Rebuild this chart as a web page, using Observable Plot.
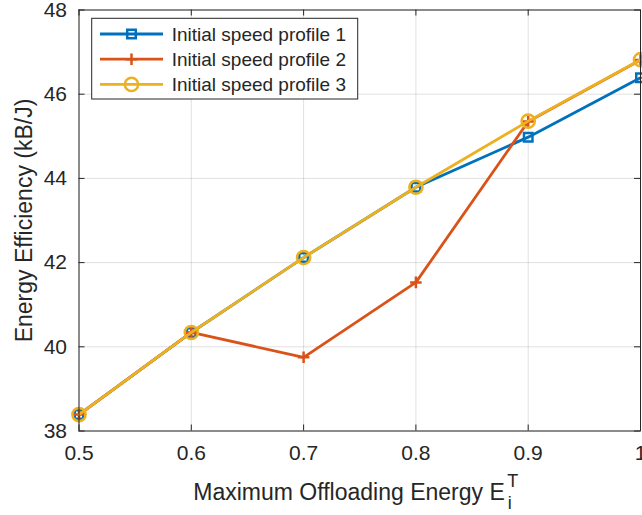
<!DOCTYPE html>
<html><head><meta charset="utf-8">
<script src="https://cdn.jsdelivr.net/npm/d3@7"></script>
<script src="https://cdn.jsdelivr.net/npm/@observablehq/plot@0.6"></script>
<style>
body{margin:0;background:#fff;}
#chart svg{display:block;}
</style>
</head><body><div id="chart"></div>
<script>
// ---- data ----
const xValues = [0.5, 0.6, 0.7, 0.8, 0.9, 1.0];
const profile1 = [38.39, 40.34, 42.12, 43.79, 44.98, 46.39];
const profile2 = [38.39, 40.34, 39.75, 41.53, 45.35, 46.81];
const profile3 = [38.39, 40.34, 42.12, 43.79, 45.36, 46.82];
const seriesNames = ["Initial speed profile 1", "Initial speed profile 2", "Initial speed profile 3"];
const seriesColors = ["#0072BD", "#D95319", "#EDB120"];
const seriesSymbols = ["square", "plus", "circle"];
const xTicks = [0.5, 0.6, 0.7, 0.8, 0.9, 1.0];
const yTicks = [38, 40, 42, 44, 46, 48];
const xLabelMain = "Maximum Offloading Energy E";
const xLabelSub = "i";
const xLabelSup = "T";
const yLabel = "Energy Efficiency (kB/J)";

// ---- layout ----
const W = 642, H = 515;
const mL = 78.5, mR = 2, mT = 9.5, mB = 84.5;
const innerW = W - mL - mR, innerH = H - mT - mB;
const xDomain = [0.5, 1.0], yDomain = [38, 48];
const tickPx = 6;
const tdx = tickPx * (xDomain[1] - xDomain[0]) / innerW;
const tdy = tickPx * (yDomain[1] - yDomain[0]) / innerH;
const ink = "#262626";
const font = "'Liberation Sans', Arial, Helvetica, sans-serif";

const allSeries = [profile1, profile2, profile3];
const symbolR = [4.8, 3.8, 6.6];

const seriesMarks = [];
allSeries.forEach((vals, i) => {
  const rows = xValues.map((x, j) => ({x, y: vals[j], s: seriesNames[i]}));
  seriesMarks.push(Plot.line(rows, {x: "x", y: "y", stroke: seriesColors[i], strokeWidth: 2.8}));
  seriesMarks.push(Plot.dot(rows, {x: "x", y: "y", stroke: seriesColors[i], fill: "none",
    symbol: seriesSymbols[i], r: symbolR[i], strokeWidth: 2.5}));
});

const chart = Plot.plot({
  width: W, height: H,
  marginLeft: mL, marginRight: mR, marginTop: mT, marginBottom: mB,
  style: {fontFamily: font, color: ink, background: "#fff"},
  x: {domain: xDomain},
  y: {domain: yDomain},
  marks: [
    Plot.gridX(xTicks, {stroke: "#000", strokeOpacity: 0.12, strokeWidth: 1}),
    Plot.gridY(yTicks, {stroke: "#000", strokeOpacity: 0.12, strokeWidth: 1}),
    // inward ticks on all four sides
    Plot.ruleX(xTicks, {x: d => d, y1: yDomain[0], y2: yDomain[0] + tdy, stroke: ink}),
    Plot.ruleX(xTicks, {x: d => d, y1: yDomain[1] - tdy, y2: yDomain[1], stroke: ink}),
    Plot.ruleY(yTicks, {y: d => d, x1: xDomain[0], x2: xDomain[0] + tdx, stroke: ink}),
    Plot.ruleY(yTicks, {y: d => d, x1: xDomain[1] - tdx, x2: xDomain[1], stroke: ink}),
    Plot.axisX(xTicks, {tickSize: 0, tickPadding: 14.5, fontSize: 21, fill: ink,
      tickFormat: d => String(+d.toFixed(1)), label: null}),
    Plot.axisY(yTicks, {tickSize: 0, tickPadding: 12, fontSize: 21, fill: ink,
      tickFormat: d => String(d), label: null}),
    ...seriesMarks,
    Plot.frame({stroke: ink, strokeWidth: 1}),
    Plot.text([yLabel], {frameAnchor: "left", rotate: -90, dx: 31.7 - mL, lineAnchor: "bottom",
      textAnchor: "middle", fontSize: 23, fill: ink})
  ]
});

document.getElementById("chart").appendChild(chart);

// ---- x label with subscript / superscript ----
const svg = d3.select(chart);
const xl = svg.append("text")
  .attr("x", 193.3).attr("y", 499.7).attr("text-anchor", "start")
  .attr("font-family", font).attr("font-size", 23).attr("fill", ink);
xl.append("tspan").text(xLabelMain);
xl.append("tspan").attr("dx", 3).attr("dy", 9).attr("font-size", 18).text(xLabelSub);
xl.append("tspan").attr("dx", -4.5).attr("dy", -21.7).attr("font-size", 18).text(xLabelSup);

// ---- legend ----
const lg = svg.append("g").attr("font-family", font).attr("text-anchor", "start");
lg.append("rect").attr("x", 91.7).attr("y", 18.3).attr("width", 266).attr("height", 80.7)
  .attr("fill", "#fff").attr("stroke", ink).attr("stroke-width", 1);
const symMap = {square: d3.symbolSquare, plus: d3.symbolPlus, circle: d3.symbolCircle};
seriesNames.forEach((name, i) => {
  const cy = 34 + i * 25.2;
  lg.append("line").attr("x1", 100).attr("x2", 163).attr("y1", cy).attr("y2", cy)
    .attr("stroke", seriesColors[i]).attr("stroke-width", 2.8);
  lg.append("path").attr("transform", `translate(131.5,${cy})`)
    .attr("d", d3.symbol(symMap[seriesSymbols[i]], Math.PI * symbolR[i] * symbolR[i])())
    .attr("fill", "none").attr("stroke", seriesColors[i]).attr("stroke-width", 2.5);
  lg.append("text").attr("x", 171.7).attr("y", cy).attr("dy", "0.35em")
    .attr("text-anchor", "start")
    .attr("font-size", 19).attr("fill", ink).text(name);
});
</script>
</body></html>
